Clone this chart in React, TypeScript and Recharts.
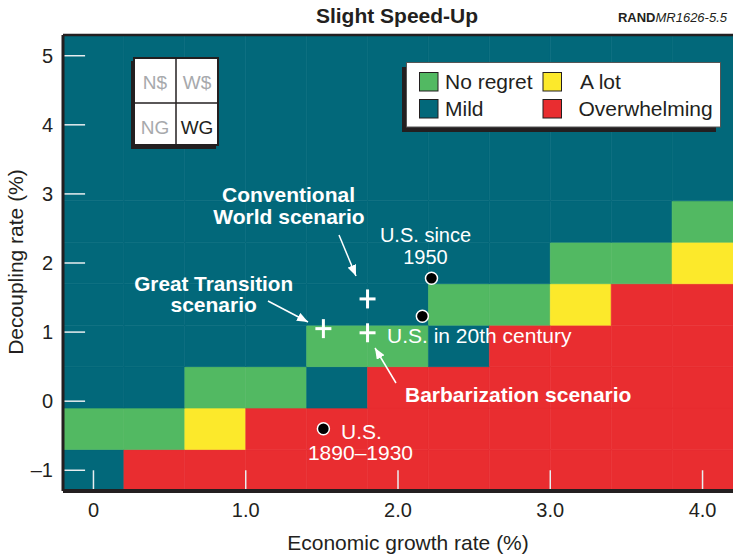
import React from "react";
import { ScatterChart, Scatter, XAxis, YAxis, ReferenceArea, ReferenceLine } from "recharts";

const FONT = '"Liberation Sans", Arial, Helvetica, sans-serif';
const INK = "#231f20";

// category letters: G = no regret, M = mild, Y = a lot, O = overwhelming
const legendKeys = ["G", "M", "Y", "O"];
const legendNames = ["No regret", "Mild", "A lot", "Overwhelming"];
const catColors: Record<string, string> = {
  G: "#52b962",
  M: "#02687a",
  Y: "#fce92b",
  O: "#e92d30",
};

// grid of cells: growth-rate edges (x) and decoupling-rate edges (y)
const colEdges = [-0.2, 0.2, 0.6, 1.0, 1.4, 1.8, 2.2, 2.6, 3.0, 3.4, 3.8, 4.2];
const rowEdges = [-1.3, -0.7, -0.1, 0.5, 1.1, 1.7, 2.3, 2.9, 5.3];
// one string per row, bottom row first, one letter per column
const rowCats = [
  "MOOOOOOOOOO",
  "GGYOOOOOOOO",
  "MMGGMOOOOOO",
  "MMMMGGMOOOO",
  "MMMMMMGGYOO",
  "MMMMMMMMGGY",
  "MMMMMMMMMMG",
  "MMMMMMMMMMM",
];

const xTicks = [0, 1, 2, 3, 4];
const xTickLabels = ["0", "1.0", "2.0", "3.0", "4.0"];
const yTicks = [-1, 0, 1, 2, 3, 4, 5];
const yTickLabels = ["\u20131", "0", "1", "2", "3", "4", "5"];

// U.S. history: since 1950, 20th century, 1890-1930
const usPoints = [
  { x: 2.22, y: 1.78 },
  { x: 2.16, y: 1.23 },
  { x: 1.51, y: -0.4 },
];
// scenarios: Conventional World, Great Transition, Barbarization
const scenarioPoints = [
  { x: 1.8, y: 1.48 },
  { x: 1.51, y: 1.05 },
  { x: 1.8, y: 0.99 },
];

const cells: { x1: number; x2: number; y1: number; y2: number; c: string }[] = [];
rowCats.forEach((row, j) => {
  row.split("").forEach((c, i) => {
    cells.push({ x1: colEdges[i], x2: colEdges[i + 1], y1: rowEdges[j], y2: rowEdges[j + 1], c });
  });
});

const Dot = (p: any) => (
  <circle cx={p.cx} cy={p.cy} r={6} fill="#000" stroke="#fff" strokeWidth={1.5} />
);

const Plus = (p: any) => (
  <g stroke="#fff" strokeWidth={3}>
    <line x1={p.cx - 8} y1={p.cy} x2={p.cx + 8} y2={p.cy} />
    <line x1={p.cx} y1={p.cy - 9.5} x2={p.cx} y2={p.cy + 9.5} />
  </g>
);

const Overlay = () => (
  <svg
    width={733}
    height={555}
    style={{ position: "absolute", left: 0, top: 0, pointerEvents: "none", fontFamily: FONT }}
  >
    <defs>
      <marker id="arr" markerUnits="userSpaceOnUse" markerWidth={11} markerHeight={9} refX={11} refY={4.5} orient="auto">
        <path d="M0,0 L11,4.5 L0,9 z" fill="#fff" />
      </marker>
    </defs>

    {/* title */}
    <text x={397} y={23} textAnchor="middle" fontSize={21} fontWeight="bold" fill={INK}>
      Slight Speed-Up
    </text>
    <text x={727} y={22} textAnchor="end" fontSize={13} fill={INK}>
      <tspan fontWeight="bold">RAND</tspan>
      <tspan fontStyle="italic">MR1626-5.5</tspan>
    </text>

    {/* axis titles */}
    <text x={408} y={550} textAnchor="middle" fontSize={21} fill={INK}>
      Economic growth rate (%)
    </text>
    <text x={23} y={262} textAnchor="middle" fontSize={21} fill={INK} transform="rotate(-90 23 262)">
      Decoupling rate (%)
    </text>

    {/* key box */}
    <rect x={131} y={61} width={85} height={88} fill={INK} />
    <rect x={134} y={58} width={84} height={87} fill="#fff" stroke={INK} strokeWidth={2} />
    <line x1={176} y1={58} x2={176} y2={145} stroke={INK} strokeWidth={1.5} />
    <line x1={134} y1={103} x2={218} y2={103} stroke={INK} strokeWidth={1.5} />
    <g fontSize={19} textAnchor="middle">
      <text x={155} y={89} fill="#a7a9ac">N$</text>
      <text x={197} y={89} fill="#a7a9ac">W$</text>
      <text x={155} y={134} fill="#a7a9ac">NG</text>
      <text x={197} y={134} fill={INK}>WG</text>
    </g>

    {/* legend */}
    <rect x={402} y={67} width={314} height={65} fill={INK} />
    <rect x={406.5} y={62.5} width={314} height={64.5} fill="#fff" stroke="#555" strokeWidth={1} />
    {legendKeys.map((k, i) => {
      const col = i < 2 ? 0 : 1;
      const row = i % 2;
      const sx = col === 0 ? 419.5 : 543;
      const sy = row === 0 ? 72.5 : 99.5;
      const tx = col === 0 ? 445 : i === 2 ? 580 : 578.5;
      return (
        <g key={k}>
          <rect x={sx} y={sy} width={18.5} height={18.5} fill={catColors[k]} stroke={INK} strokeWidth={1} />
          <text x={tx} y={row === 0 ? 89 : 116} fontSize={21} fill={INK}>
            {legendNames[i]}
          </text>
        </g>
      );
    })}

    {/* annotations */}
    <g fill="#fff" fontSize={21}>
      <text x={288.5} y={202} textAnchor="middle" fontWeight="bold">Conventional</text>
      <text x={289} y={224} textAnchor="middle" fontWeight="bold">World scenario</text>
      <text x={213.7} y={290.5} textAnchor="middle" fontWeight="bold" textLength={159} lengthAdjust="spacingAndGlyphs">
        Great Transition
      </text>
      <text x={213.7} y={311.5} textAnchor="middle" fontWeight="bold">scenario</text>
      <text x={425.5} y={241.5} textAnchor="middle" fontSize={20}>U.S. since</text>
      <text x={425.5} y={263.5} textAnchor="middle" fontSize={20}>1950</text>
      <text x={387} y={343}>U.S. in 20th century</text>
      <text x={405} y={401.5} fontWeight="bold">Barbarization scenario</text>
      <text x={341} y={439}>U.S.</text>
      <text x={360.5} y={460} textAnchor="middle">1890–1930</text>
    </g>
    <g stroke="#fff" strokeWidth={1.5}>
      <line x1={339} y1={235} x2={356} y2={276} markerEnd="url(#arr)" />
      <line x1={268} y1={301} x2={308} y2={322} markerEnd="url(#arr)" />
      <line x1={396} y1={383} x2={375} y2={348} markerEnd="url(#arr)" />
    </g>
  </svg>
);

export default function App() {
  return (
    <div style={{ position: "absolute", left: 0, top: 0, width: 733, height: 555, fontFamily: FONT, background: "#fff" }}>
      <ScatterChart width={733} height={555} margin={{ top: 35, right: 0, bottom: 0, left: 0 }}>
        <XAxis
          type="number"
          dataKey="x"
          domain={[-0.2, 4.2]}
          ticks={xTicks}
          tickFormatter={(v: number) => xTickLabels[xTicks.indexOf(v)]}
          allowDataOverflow
          axisLine={false}
          tickLine={false}
          tickSize={0}
          tickMargin={12}
          height={64}
          tick={{ fill: INK, fontSize: 20 }}
        />
        <YAxis
          type="number"
          dataKey="y"
          domain={[-1.3, 5.3]}
          ticks={yTicks}
          tickFormatter={(v: number) => yTickLabels[yTicks.indexOf(v)]}
          allowDataOverflow
          axisLine={false}
          tickLine={false}
          tickSize={0}
          tickMargin={10}
          width={63}
          tick={{ fill: INK, fontSize: 20 }}
        />
        {cells.map((c, i) => (
          <ReferenceArea
            key={i}
            x1={c.x1}
            x2={c.x2}
            y1={c.y1}
            y2={c.y2}
            fill={catColors[c.c]}
            fillOpacity={1}
            stroke={catColors[c.c]}
            strokeWidth={0.6}
            ifOverflow="hidden"
          />
        ))}
        {/* inner tick marks */}
        {xTicks.map((t) => (
          <ReferenceLine key={"xt" + t} segment={[{ x: t, y: -1.3 }, { x: t, y: -1.0 }]} stroke="#e8eef0" strokeWidth={1.5} />
        ))}
        {yTicks.map((t) => (
          <ReferenceLine key={"yt" + t} segment={[{ x: -0.2, y: t }, { x: -0.055, y: t }]} stroke="#e8eef0" strokeWidth={1.5} />
        ))}
        {/* frame */}
        <ReferenceLine x={-0.2} stroke={INK} strokeWidth={3} />
        <ReferenceLine y={-1.3} stroke={INK} strokeWidth={4} />
        <ReferenceLine y={5.3} stroke={INK} strokeWidth={2.5} />
        <Scatter data={scenarioPoints} shape={Plus} isAnimationActive={false} />
        <Scatter data={usPoints} shape={Dot} isAnimationActive={false} />
      </ScatterChart>
      <Overlay />
    </div>
  );
}
